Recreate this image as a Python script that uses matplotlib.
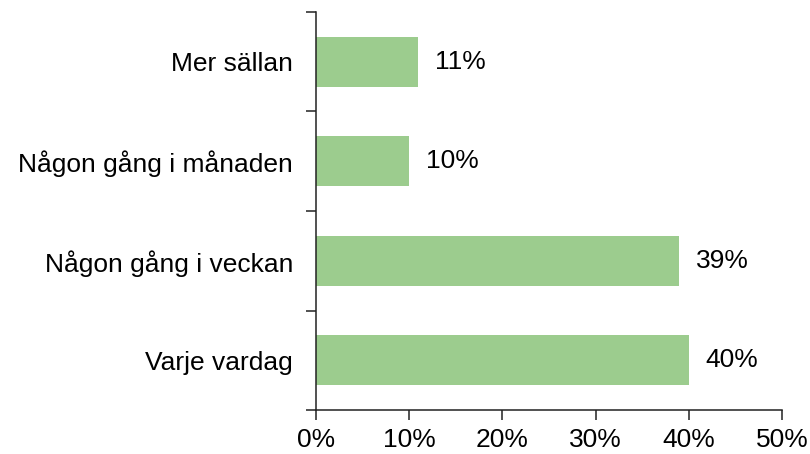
import matplotlib
matplotlib.use("Agg")
import matplotlib.pyplot as plt
from matplotlib.ticker import FixedLocator, PercentFormatter

categories = ["Varje vardag", "Någon gång i veckan", "Någon gång i månaden", "Mer sällan"]
values = [40, 39, 10, 11]
xticks = [0, 10, 20, 30, 40, 50]

plt.rcParams['font.family'] = ['Liberation Sans', 'DejaVu Sans']
FS = 19

fig = plt.figure(figsize=(8.1, 4.54), dpi=100)
ax = fig.add_axes([0.390, 0.0969, 0.5754, 0.8767])

y = list(range(len(categories)))
ax.barh(y, values, height=0.5, color="#9ccc8e")
for yi, v in zip(y, values):
    ax.text(v + 1.8, yi, f"{v}%", va="center", ha="left", fontsize=FS, color="black")

ax.set_xlim(0, 50)
ax.set_ylim(-0.5, len(categories) - 0.5)
ax.set_xticks(xticks)
ax.xaxis.set_major_formatter(PercentFormatter(decimals=0))
ax.set_yticks(y)
ax.set_yticklabels(categories)
ax.yaxis.set_minor_locator(FixedLocator([i - 0.5 for i in range(len(categories) + 1)]))

for s in ["top", "right"]:
    ax.spines[s].set_visible(False)
for s in ["left", "bottom"]:
    ax.spines[s].set_linewidth(1.1)
    ax.spines[s].set_color("#222222")

ax.tick_params(axis="x", which="major", length=7, width=1.1, direction="out", labelsize=FS, pad=6, colors="black", color="#222222")
ax.tick_params(axis="y", which="major", length=0, labelsize=FS, pad=16.5, colors="black")
ax.tick_params(axis="y", which="minor", length=7, width=1.1, direction="out", color="#222222")

fig.savefig("out.png", dpi=100)
